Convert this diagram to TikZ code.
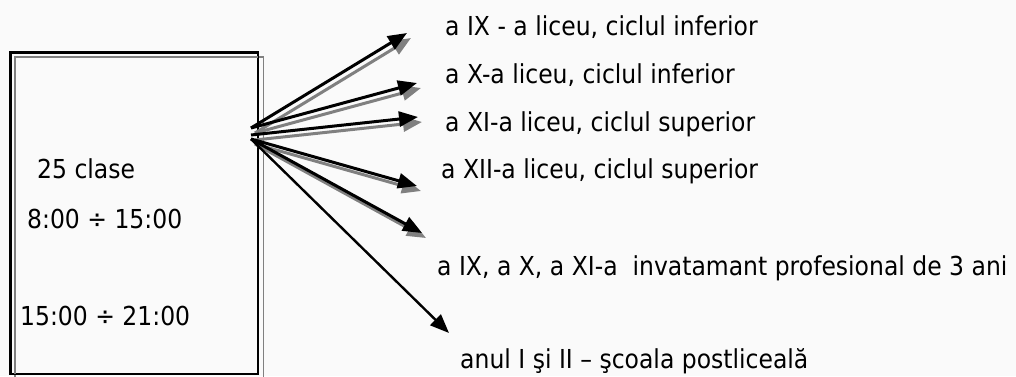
\documentclass[tikz,border=0pt]{standalone}
\usepackage{fontspec}
\setmainfont{DejaVu Sans}
\newfontfamily\tahlike[FakeStretch=0.9]{DejaVu Sans}
\usetikzlibrary{arrows.meta}
\definecolor{bgc}{RGB}{250,250,250}
\definecolor{shadowc}{RGB}{128,128,128}
\begin{document}
\begin{tikzpicture}[x=1pt,y=-1pt,
  lbl/.style={anchor=base west, inner sep=0pt, font=\tahlike\fontsize{26.1pt}{30pt}\selectfont},
  arr/.style={line width=3pt, -{Triangle[length=19pt,width=15pt]}},
  shd/.style={arr, draw=shadowc, fill=shadowc},
  blk/.style={arr, draw=black, fill=black}]
\fill[bgc] (0,0) rectangle (1016,376);
\useasboundingbox (0,0) rectangle (1016,376);
% box
\node (box) [draw, line width=1.6pt, minimum width=247pt, minimum height=321pt,
  anchor=north west, inner sep=0pt] at (10,52) {};
\draw[shadowc, line width=1.3pt] ([shift={(5,5)}]box.north west) rectangle ([shift={(5,5)}]box.south east);
\draw[line width=1.6pt] (box.north west) rectangle (box.south east);
% box texts
\node[lbl] (n25) at (37,178) {25 clase};
\node[lbl] (nday) at (27,228) {8:00 ÷ 15:00};
\node[lbl] (neve) at (20,325) {15:00 ÷ 21:00};
% right texts
\node[lbl] (l1) at (445,35) {a IX - a liceu, ciclul inferior};
\node[lbl] (l2) at (445,83) {a X-a liceu, ciclul inferior};
\node[lbl] (l3) at (445,131) {a XI-a liceu, ciclul superior};
\node[lbl] (l4) at (441,178) {a XII-a liceu, ciclul superior};
\node[lbl] (l5) at (437,275) {a IX, a X, a XI-a~ invatamant profesional de 3 ani};
\node[lbl] (l6) at (460,368) {anul I şi II – şcoala postliceală};
% arrow origins and tips
\coordinate (o1) at (251,128);
\coordinate (o2) at (251,135);
\coordinate (o3) at (251,139);
\coordinate (t1) at (407,33);
\coordinate (t2) at (417,83);
\coordinate (t3) at (418,117);
\coordinate (t4) at (417,186);
\coordinate (t5) at (422,233);
\coordinate (t6) at (449,333);
% shadows
\draw[shd] ([shift={(4,5)}]o1) -- ([shift={(4,5)}]t1);
\draw[shd] ([shift={(4,5)}]o1) -- ([shift={(4,5)}]t2);
\draw[shd] ([shift={(4,5)}]o2) -- ([shift={(4,5)}]t3);
\draw[shd] ([shift={(4,5)}]o3) -- ([shift={(4,5)}]t4);
\draw[shd] ([shift={(4,5)}]o3) -- ([shift={(4,5)}]t5);
% arrows
\draw[blk] (o1) -- (t1);
\draw[blk] (o1) -- (t2);
\draw[blk] (o2) -- (t3);
\draw[blk] (o3) -- (t4);
\draw[blk] (o3) -- (t5);
\draw[blk, line width=2.4pt] (o3) -- (t6);
\end{tikzpicture}
\end{document}
